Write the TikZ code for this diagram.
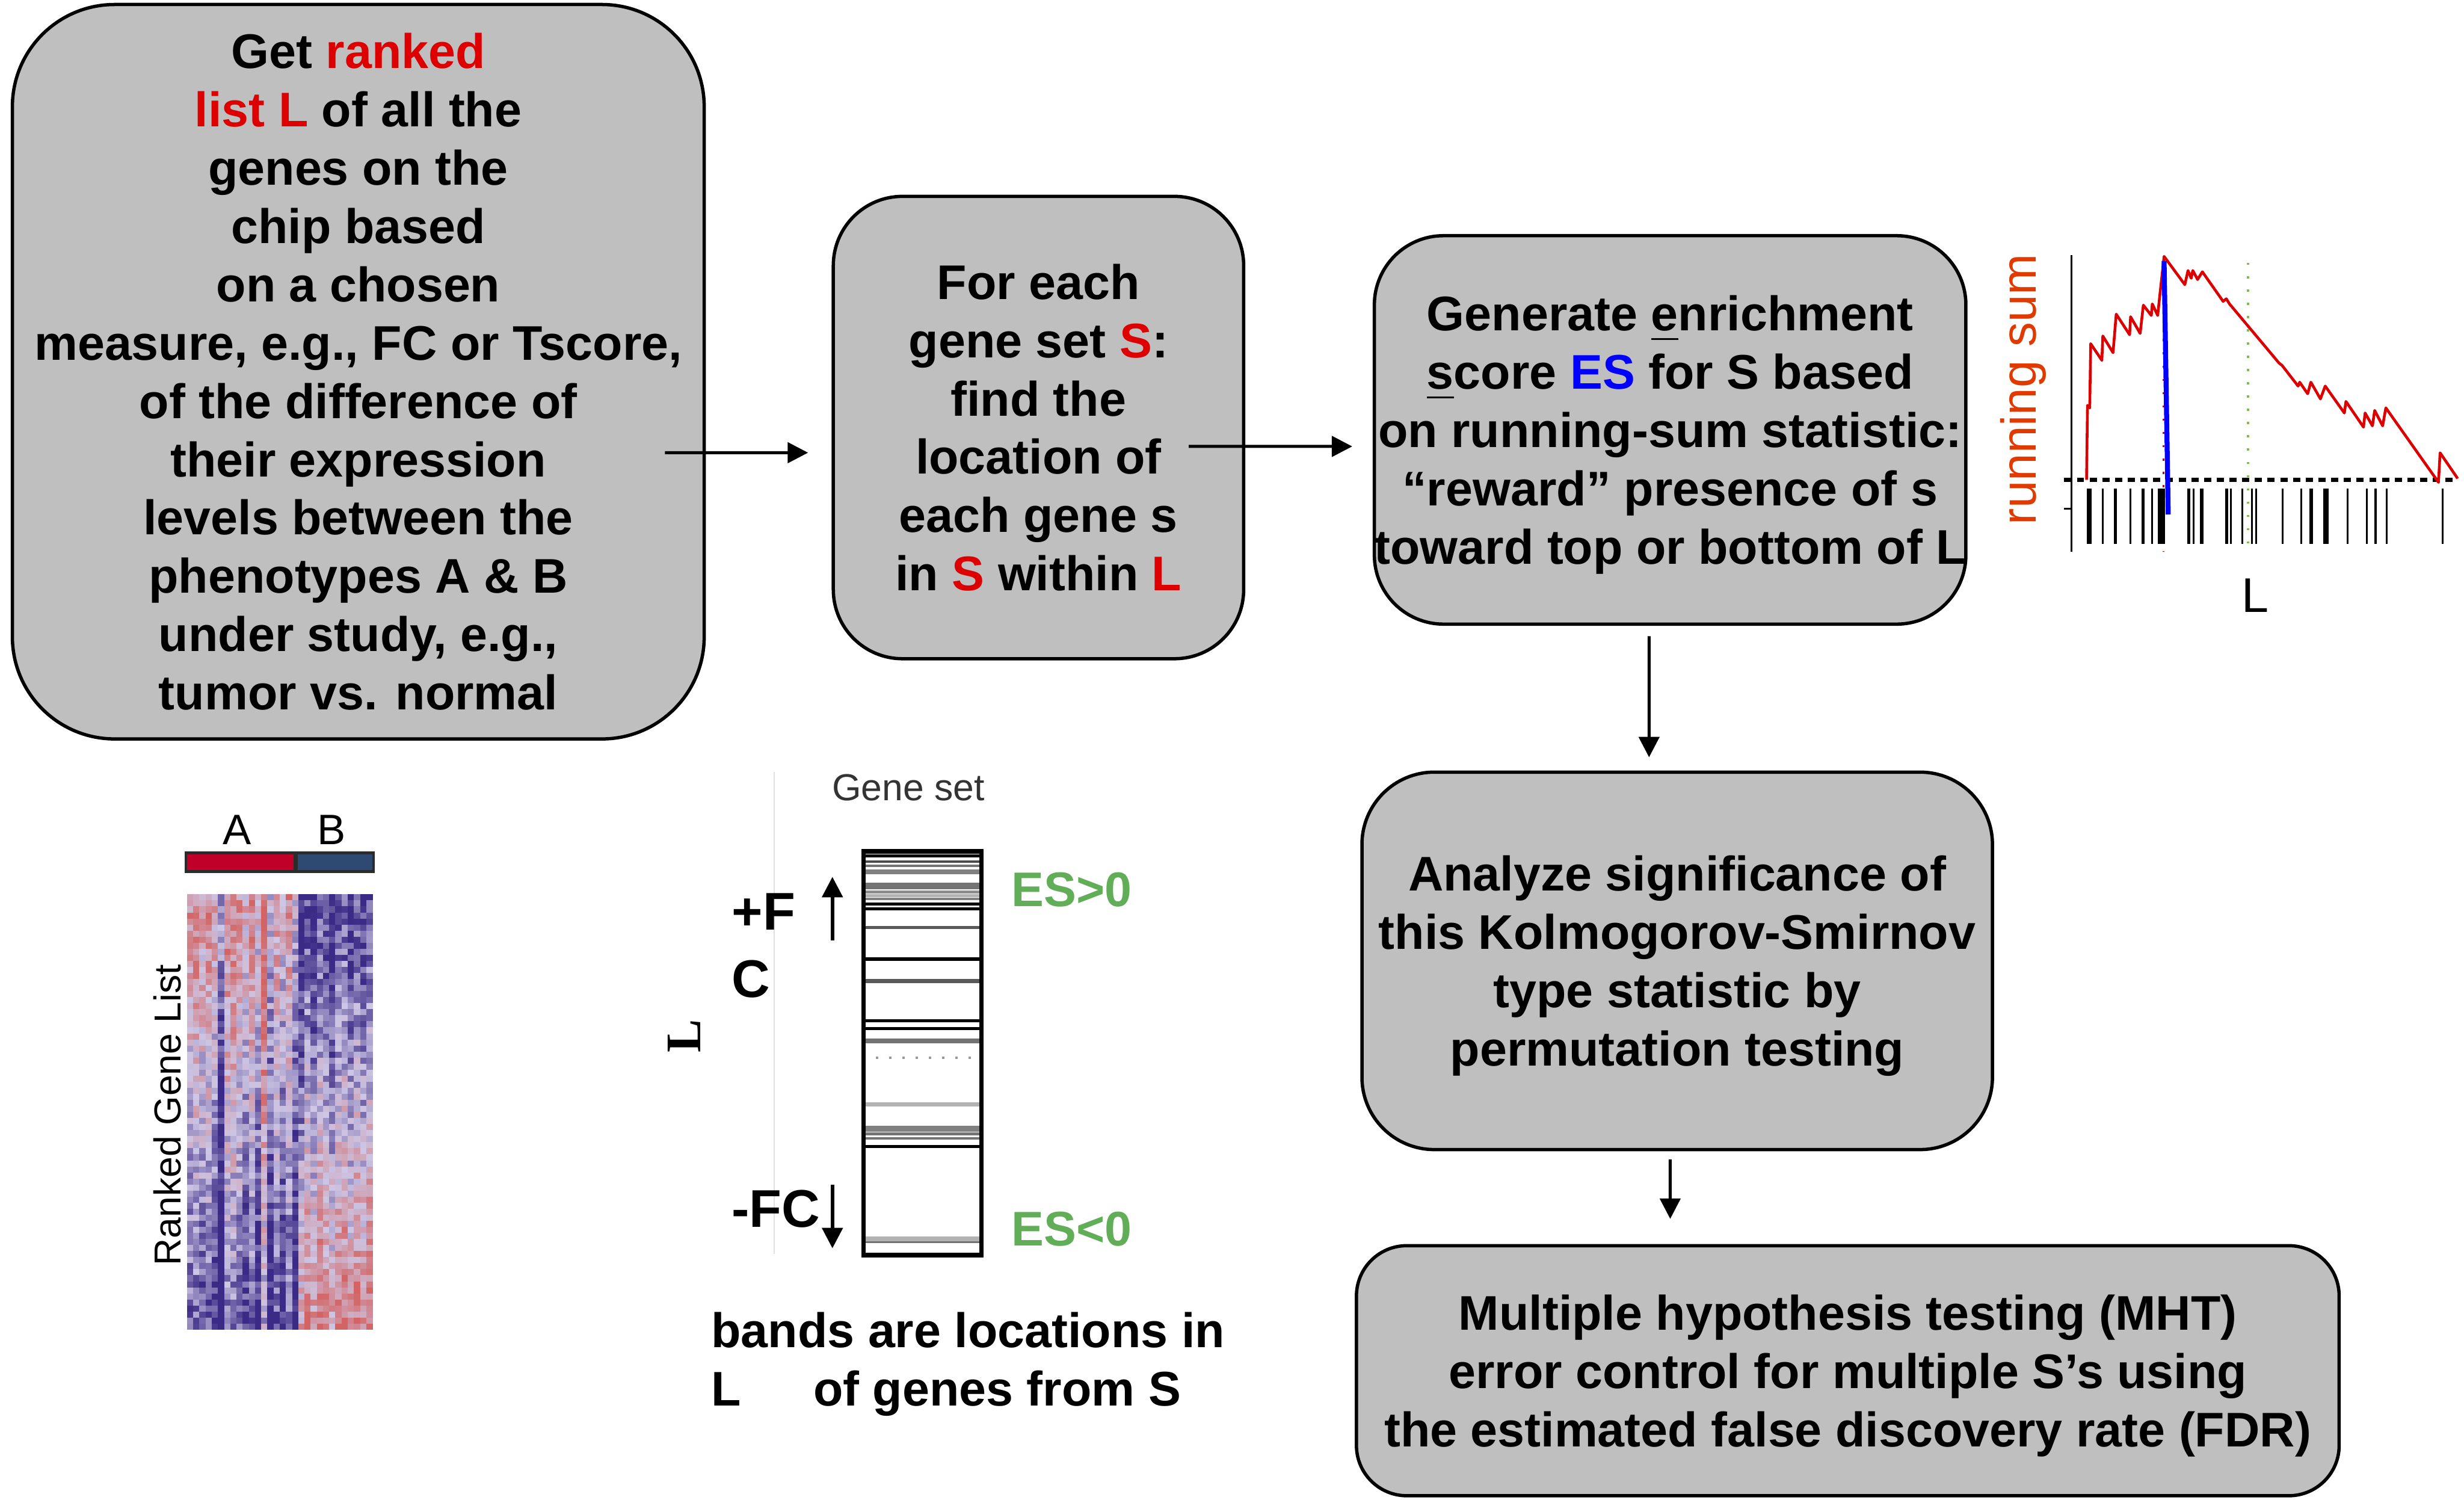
\documentclass[tikz,border=0pt]{standalone}
\usepackage{fontspec}
\setmainfont{Liberation Sans}
\newfontfamily\serifbold{Liberation Serif}
\usetikzlibrary{arrows.meta,positioning,calc}
\definecolor{BoxGray}{HTML}{BFBFBF}
\definecolor{KeyRed}{HTML}{DD0000}
\definecolor{KeyBlue}{HTML}{0000FF}
\definecolor{ESGreen}{HTML}{62AD57}
\definecolor{SumOrange}{HTML}{E03A00}
\definecolor{MarkGreen}{HTML}{7CC04B}
\definecolor{BarRed}{HTML}{C00028}
\definecolor{BarBlue}{HTML}{2F4A72}
\definecolor{hmDark}{HTML}{3B2A86}
\definecolor{hmPale}{HTML}{CDC6E4}
\definecolor{hmRed}{HTML}{D26464}

\begin{document}
\begin{tikzpicture}[x=0.01cm, y=-0.01cm,
  stepbox/.style={draw=black, fill=BoxGray, line width=0.6pt, align=center, inner sep=0pt,
    font=\fontsize{8.8}{10.55}\selectfont\bfseries},
  flowarrow/.style={-{Triangle[length=1.3mm,width=1.3mm]}, line width=0.55pt},
  plainlabel/.style={inner sep=0pt, font=\fontsize{8.8}{10.55}\selectfont\bfseries},
  biglabel/.style={inner sep=0pt, anchor=west, font=\fontsize{9.6}{11}\selectfont\bfseries}]
  \useasboundingbox (0,0) rectangle (1568,954);

  % main flow
  \node[stepbox, rounded corners=6.5mm, minimum width=4.40cm, minimum height=4.67cm] (rank) at (228,236.5) {
    Get \textcolor{KeyRed}{ranked}\\
    \textcolor{KeyRed}{list L} of all the\\
    genes on the\\
    chip based\\
    on a chosen\\
    measure, e.g., FC or Tscore,\\
    of the difference of\\
    their expression\\
    levels between the\\
    phenotypes A \& B\\
    under study, e.g.,\\
    tumor vs. normal
  };
  \node[stepbox, rounded corners=4.4mm, minimum width=2.61cm, minimum height=2.94cm, right=0.80cm of rank, yshift=-3.55mm] (locate) {
    For each\\
    gene set \textcolor{KeyRed}{S}:\\
    find the\\
    location of\\
    each gene s\\
    in \textcolor{KeyRed}{S} within \textcolor{KeyRed}{L}
  };
  \node[stepbox, rounded corners=4.4mm, minimum width=3.74cm, minimum height=2.47cm, right=0.81cm of locate, yshift=-0.15mm] (enrich) {
    Generate \underline{e}nrichment\\
    \underline{s}core \textcolor{KeyBlue}{ES} for S based\\
    on running-sum statistic:\\
    “reward” presence of s\\
    \smash{toward top or bottom of L}
  };
  \node[stepbox, rounded corners=4.6mm, minimum width=4.01cm, minimum height=2.40cm, below=0.92cm of enrich, xshift=0.45mm] (signif) {
    Analyze significance of\\
    this Kolmogorov-Smirnov\\
    type statistic by\\
    \smash{permutation testing}
  };
  \node[stepbox, rounded corners=3.2mm, minimum width=6.25cm, minimum height=1.59cm, below=0.59cm of signif, xshift=10.85mm] (mht) {
    Multiple hypothesis testing (MHT)\\
    error control for multiple S’s using\\
    \smash{the estimated false discovery rate (FDR)}
  };

  \draw[flowarrow] ([shift={(-26,51.5)}]rank.east) -- ([shift={(-15,16)}]locate.west);
  \draw[flowarrow] ([shift={(-36,12)}]locate.east) -- ([shift={(-13,10.5)}]enrich.west);
  \draw[flowarrow] ([shift={(-13.4,6.6)}]enrich.south) -- ([shift={(-17.9,-8.4)}]signif.north);
  \draw[flowarrow] ([shift={(-4.5,5.2)}]signif.south) -- ([shift={(-113,-16)}]mht.north);

  % running sum plot
  \begin{scope}[shift={(1254.3,146.8)}, x=0.002023cm, y=-0.001635cm]
    \draw[line width=0.4pt] (315,95) -- (315,1250);
    \draw[line width=0.4pt] (292,1083) -- (315,1083);
    \draw[KeyRed, dotted, line width=0.4pt] (603,370) -- (603,1250);
    \draw[MarkGreen, dotted, line width=0.4pt] (868,125) -- (868,1250);
    \foreach \b in {365,370,375,413,450,455,500,538,541,568,588,592,596,600,604,680,684,697,720,725,
                    800,803,815,850,880,893,977,1035,1063,1068,1107,1112,1117,1180,1240,1268,1302,1478}
      \draw[line width=0.35pt] (\b,1005) -- (\b,1220);
    \draw[line width=0.8pt, dash pattern=on 1.3pt off 1pt] (292,970) -- (1525,970);
    \draw[KeyRed, line width=0.5pt, line join=round] (362,970) -- (365,680) -- (372,690) -- (375,440)
      -- (410,505) -- (413,410) -- (445,475) -- (455,325) -- (497,405) -- (500,335) -- (530,400)
      -- (540,290) -- (565,330) -- (568,285) -- (585,330) -- (590,270) -- (605,100) -- (670,210)
      -- (680,155) -- (690,185) -- (695,155) -- (710,190) -- (725,160) -- (790,275) -- (800,265)
      -- (810,285) -- (965,515) -- (975,525) -- (1025,605) -- (1030,590) -- (1055,635) -- (1065,590)
      -- (1095,655) -- (1110,605) -- (1170,710) -- (1175,665) -- (1230,765) -- (1235,710) -- (1258,760)
      -- (1265,700) -- (1290,760) -- (1300,690) -- (1465,980) -- (1470,865) -- (1525,965);
    \draw[blue, line width=0.9pt] (605,118) -- (618,1105);
  \end{scope}
  \node[rotate=90, anchor=base, inner sep=0pt, text=SumOrange, font=\fontsize{8.9}{10}\selectfont] (sumlabel) at (1295.8,247.7) {running sum};
  \node[inner sep=0pt, font=\fontsize{8.8}{10}\selectfont] (plotL) at (1435,379) {L};

  % gene set bar
  \begin{scope}[shift={(413.7,480.4)}, x=0.002238cm, y=-0.002145cm]
    \draw[black!12, line width=0.3pt] (352,50) -- (352,1475);
    \foreach \yb/\shade/\wd in {298/black/0.5pt, 315/black!70/0.4pt, 327/black!55/0.4pt, 345/black!50/0.8pt,
        387/black!55/1.1pt, 405/black!45/0.5pt, 415/black!30/0.5pt, 425/black!50/0.5pt, 440/black/0.5pt,
        455/black/0.5pt, 510/black!65/0.5pt, 603/black/0.6pt, 668/black!65/0.8pt, 785/black/0.5pt,
        808/black/0.5pt, 845/black!55/0.9pt, 1033/black!30/0.8pt, 1105/black!50/1.1pt, 1120/black!55/0.5pt,
        1133/black!55/0.5pt, 1157/black/0.5pt, 1430/black!30/0.8pt, 1440/black!55/0.4pt}
      \draw[\shade, line width=\wd] (612,\yb) -- (935,\yb);
    \draw[black!40, dotted, line width=0.4pt] (640,895) -- (930,895);
    \draw[line width=0.8pt] (605,285) rectangle (940,1478);
    \draw[-{Triangle[length=1.3mm,width=1.3mm]}, line width=0.6pt] (517,548) -- (517,360);
    \draw[-{Triangle[length=1.3mm,width=1.3mm]}, line width=0.6pt] (517,1270) -- (517,1458);
  \end{scope}
  \node[inner sep=0pt, text=black!80, font=\fontsize{6.8}{8}\selectfont] (genesetlabel) at (578,501) {Gene set};
  \node[biglabel] (plusF) at (465,580) {+F};
  \node[biglabel] (plusC) at (465,623) {C};
  \node[biglabel] (minusFC) at (465,769) {-FC};
  \node[inner sep=0pt, rotate=90, font=\serifbold\fontsize{9}{10}\selectfont\bfseries] (sideL) at (435.5,659) {L};
  \node[plainlabel, anchor=west, text=ESGreen] (esup) at (643,566) {ES>0};
  \node[plainlabel, anchor=west, text=ESGreen] (esdown) at (643,782) {ES<0};
  \node[plainlabel, align=left, anchor=west] (bands) at (452,868) {bands are locations in\\L\hspace{4.6mm}of genes from S};

  % heatmap
  \fill[black!83] (117.4,541.6) rectangle (238.4,555.4);
  \fill[BarRed] (119,543.5) rectangle (187,553.5);
  \fill[BarBlue] (189.5,543.5) rectangle (236.8,553.5);
  \node[inner sep=0pt, font=\fontsize{7.7}{9}\selectfont] (classA) at (151,528) {A};
  \node[inner sep=0pt, font=\fontsize{7.7}{9}\selectfont] (classB) at (211,528) {B};
  \pgfmathsetseed{42}
  \foreach \c in {0,...,29}{
    \pgfmathsetmacro\colshift{{0.1,0.2,0,0.15,-0.1,-0.8,0.25,0.3,0.1,-0.15,0.2,-0.3,0.6,-0.45,0.05,-0.3,0.15,-0.5,-0.3,0.1,-0.2,0.2,0,-0.25,0.1,0.2,-0.1,0.15,-0.05,0.2}[\c]}
    \foreach \r in {0,...,71}{
      \pgfmathsetmacro\t{\r/71}
      \pgfmathsetmacro\v{((\c<18) ? (0.5-1.3*\t) : (-0.95+1.6*\t))+\colshift+0.9*(rnd-0.5)}
      \pgfmathtruncatemacro\p{max(-100,min(100,100*\v))}
      \ifnum\p<0
        \pgfmathtruncatemacro\q{-\p}%
        \def\hmc{hmDark!\q!hmPale}%
      \else
        \def\hmc{hmRed!\p!hmPale}%
      \fi
      \fill[\hmc] ({119+\c*3.933},{569+\r*3.847}) rectangle ++(4.1,4.0);
    }
  }
  \node[rotate=90, anchor=base, inner sep=0pt, font=\fontsize{6.8}{8}\selectfont] (ranklabel) at (115,709.4) {Ranked Gene List};
\end{tikzpicture}
\end{document}
